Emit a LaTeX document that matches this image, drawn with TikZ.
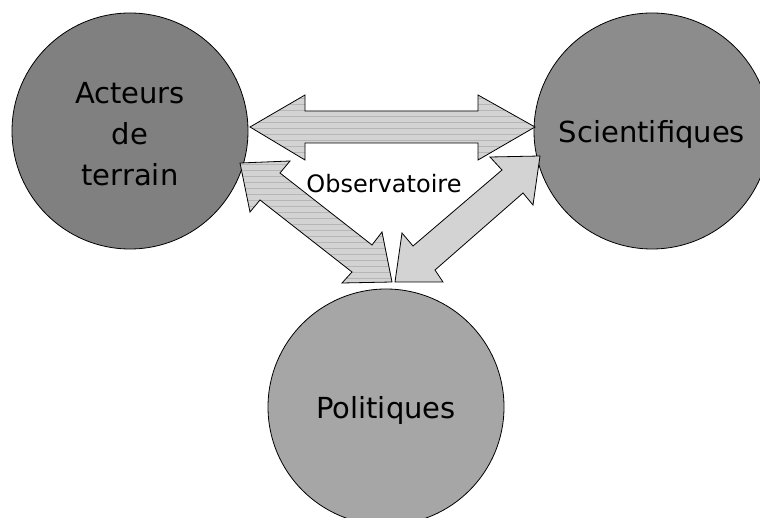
\documentclass[tikz,border=0pt]{standalone}
\usepackage{fontspec}
\setmainfont{DejaVu Sans}
\usetikzlibrary{patterns.meta}
\definecolor{darkc}{HTML}{808080}
\definecolor{midc}{HTML}{8C8C8C}
\definecolor{lightc}{HTML}{A6A6A6}
\definecolor{arrowfill}{HTML}{D3D3D3}
\definecolor{stripec}{HTML}{B6B6B6}
\begin{document}
\begin{tikzpicture}[x=1pt,y=-1pt,
  actor/.style={circle, draw=black, line width=0.8pt, minimum size=236pt, inner sep=0pt,
    font=\fontsize{29}{41}\selectfont, align=center, text=black, text depth=0pt},
  blockarrow/.style={draw=black, line width=0.8pt, fill=arrowfill, line join=miter},
  striped/.style={draw=black, line width=0.8pt, line join=miter,
    preaction={fill=arrowfill},
    pattern={Lines[angle=0,distance=6pt,line width=0.5pt]}, pattern color=stripec},
  lbl/.style={font=\fontsize{24}{28}\selectfont, text=black, inner sep=0pt}
]
\clip (0,0) rectangle (760,518);
% circles
\node[actor, fill=darkc] (act) at (130,131) {};
\node[actor, fill=midc] (sci) at (652,131) {Scientifiques};
\node[actor, fill=lightc] (pol) at (386,407) {Politiques};
\node[font=\fontsize{29}{41}\selectfont, align=center, text depth=0pt, inner sep=0pt]
  (acttext) at ([yshift=-3pt]act.center) {Acteurs\\de\\terrain};
% arrow tips
\coordinate (hA) at (250,127);
\coordinate (hB) at (535,127);
\coordinate (lA) at (240,163);
\coordinate (lB) at (392,282);
\coordinate (rA) at (540,156);
\coordinate (rB) at (395,282);
% horizontal double arrow: acteurs <-> scientifiques
\draw[striped] (hA) -- (305,95) -- (305,111) -- (478,111) -- (478,95) -- (hB)
  -- (478,160) -- (478,143) -- (305,143) -- (305,160) -- cycle;
% diagonal double arrow: acteurs <-> politiques
\draw[striped] (lA) -- (290,161) -- (280,173) -- (372,245) -- (382,232) -- (lB)
  -- (342,283) -- (352,272) -- (260,200) -- (250,212) -- cycle;
% diagonal double arrow: scientifiques <-> politiques
\draw[blockarrow] (rB) -- (402,233) -- (413,246) -- (502,170) -- (490,157) -- (rA)
  -- (533,205) -- (523,193) -- (435,270) -- (443,282) -- cycle;
% label
\node[lbl, anchor=base] (obs) at (384,193) {Observatoire};
\end{tikzpicture}
\end{document}
